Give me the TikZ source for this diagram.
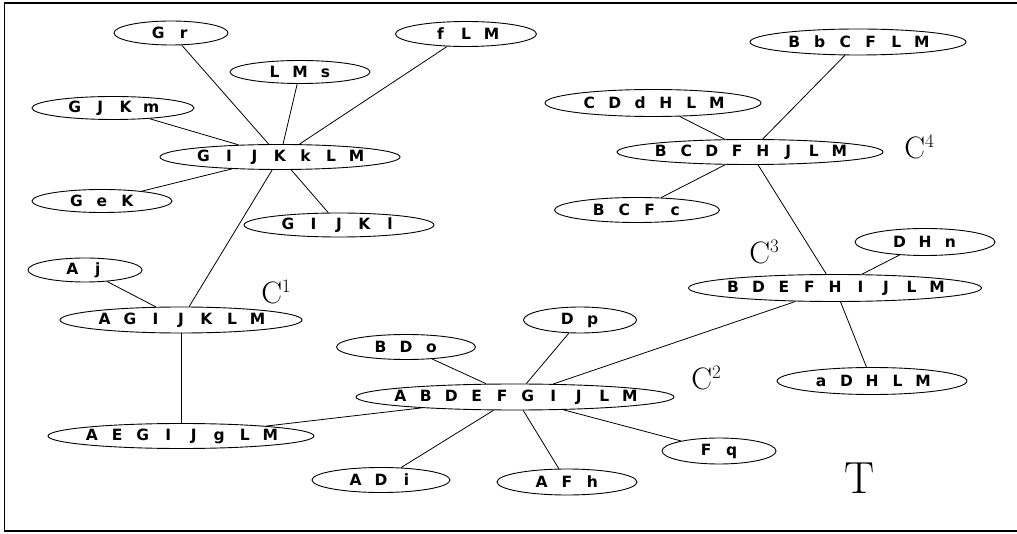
\documentclass[tikz,border=0pt]{standalone}
\usepackage{fontspec}
\newfontfamily\lblfont{DejaVu Sans Bold}
\usetikzlibrary{shapes.geometric}
\def\spreadloop#1{\ifx#1\relax\else\makebox[25.5pt]{#1}\expandafter\spreadloop\fi}
\newcommand\lbl[1]{\makebox[0pt]{\lblfont\fontsize{15.5}{18}\selectfont\spreadloop#1\relax}}
\newcommand\clq[1]{C\raisebox{11.5pt}{\fontsize{19}{20}\selectfont #1}}
\tikzset{
  set/.style={ellipse, draw, line width=0.9pt, inner sep=0pt},
  link/.style={line width=0.8pt},
  clab/.style={inner sep=0pt, font=\fontsize{31}{36}\selectfont},
}
\begin{document}
\begin{tikzpicture}[x=1pt,y=-1pt]
\useasboundingbox (0,0) rectangle (1017,534);
\draw[line width=1.6pt] (1017,3) -- (4.5,3) -- (4.5,531) -- (1017,531);
% left cluster
\node[set, minimum width=114pt, minimum height=24pt] (gr) at (171,33) {\lbl{Gr}};
\node[set, minimum width=140pt, minimum height=23pt] (lms) at (300,72) {\lbl{LMs}};
\node[set, minimum width=141pt, minimum height=25pt] (flm) at (466,34) {\lbl{fLM}};
\node[set, minimum width=162pt, minimum height=23pt] (gjkm) at (113,108) {\lbl{GJKm}};
\node[set, minimum width=240pt, minimum height=25pt] (gijkklm) at (280,157) {\lbl{GIJKkLM}};
\node[set, minimum width=140pt, minimum height=23pt] (gek) at (102,201) {\lbl{GeK}};
\node[set, minimum width=190pt, minimum height=24pt] (gijkl) at (339,225) {\lbl{GIJKl}};
\node[set, minimum width=114pt, minimum height=24pt] (aj) at (85,270) {\lbl{Aj}};
\node[set, minimum width=242pt, minimum height=26pt] (agijklm) at (181,320) {\lbl{AGIJKLM}};
\node[set, minimum width=266pt, minimum height=25pt] (aegijglm) at (181,436) {\lbl{AEGIJgLM}};
% middle cluster
\node[set, minimum width=139pt, minimum height=25pt] (bdo) at (406,347) {\lbl{BDo}};
\node[set, minimum width=113pt, minimum height=26pt] (dp) at (580,320) {\lbl{Dp}};
\node[set, minimum width=318pt, minimum height=26pt] (abdefgijlm) at (515,397) {\lbl{ABDEFGIJLM}};
\node[set, minimum width=138pt, minimum height=25pt] (adi) at (381,480) {\lbl{ADi}};
\node[set, minimum width=140pt, minimum height=26pt] (afh) at (567,482) {\lbl{AFh}};
\node[set, minimum width=114pt, minimum height=26pt] (fq) at (719,451) {\lbl{Fq}};
% right cluster
\node[set, minimum width=216pt, minimum height=26pt] (bbcflm) at (858,42) {\lbl{BbCFLM}};
\node[set, minimum width=216pt, minimum height=27pt] (cddhlm) at (653,103) {\lbl{CDdHLM}};
\node[set, minimum width=266pt, minimum height=25pt] (bcdfhjlm) at (750,152) {\lbl{BCDFHJLM}};
\node[set, minimum width=165pt, minimum height=25pt] (bcfc) at (637,210) {\lbl{BCFc}};
\node[set, minimum width=140pt, minimum height=27pt] (dhn) at (925,242) {\lbl{DHn}};
\node[set, minimum width=293pt, minimum height=27pt] (bdefhijlm) at (835,288) {\lbl{BDEFHIJLM}};
\node[set, minimum width=190pt, minimum height=27pt] (adhlm) at (872,381) {\lbl{aDHLM}};
% labels
\node[clab] (c1) at (276,292) {\clq{1}};
\node[clab] (c2) at (706,378) {\clq{2}};
\node[clab] (c3) at (764,252) {\clq{3}};
\node[clab] (c4) at (919,147) {\clq{4}};
\node[inner sep=0pt, font=\fontsize{45}{50}\selectfont] (t) at (860,478) {T};
% edges
\draw[link] (gr) -- (gijkklm);
\draw[link] (lms) -- (gijkklm);
\draw[link] (flm) -- (gijkklm);
\draw[link] (gjkm) -- (gijkklm);
\draw[link] (gek) -- (gijkklm);
\draw[link] (gijkl) -- (gijkklm);
\draw[link] (gijkklm) -- (agijklm);
\draw[link] (aj) -- (agijklm);
\draw[link] (agijklm) -- (aegijglm);
\draw[link] (aegijglm) -- (abdefgijlm);
\draw[link] (bdo) -- (abdefgijlm);
\draw[link] (dp) -- (abdefgijlm);
\draw[link] (adi) -- (abdefgijlm);
\draw[link] (afh) -- (abdefgijlm);
\draw[link] (fq) -- (abdefgijlm);
\draw[link] (abdefgijlm) -- (bdefhijlm);
\draw[link] (dhn) -- (bdefhijlm);
\draw[link] (adhlm) -- (bdefhijlm);
\draw[link] (bcdfhjlm) -- (bdefhijlm);
\draw[link] (cddhlm) -- (bcdfhjlm);
\draw[link] (bbcflm) -- (bcdfhjlm);
\draw[link] (bcfc) -- (bcdfhjlm);
\end{tikzpicture}
\end{document}
